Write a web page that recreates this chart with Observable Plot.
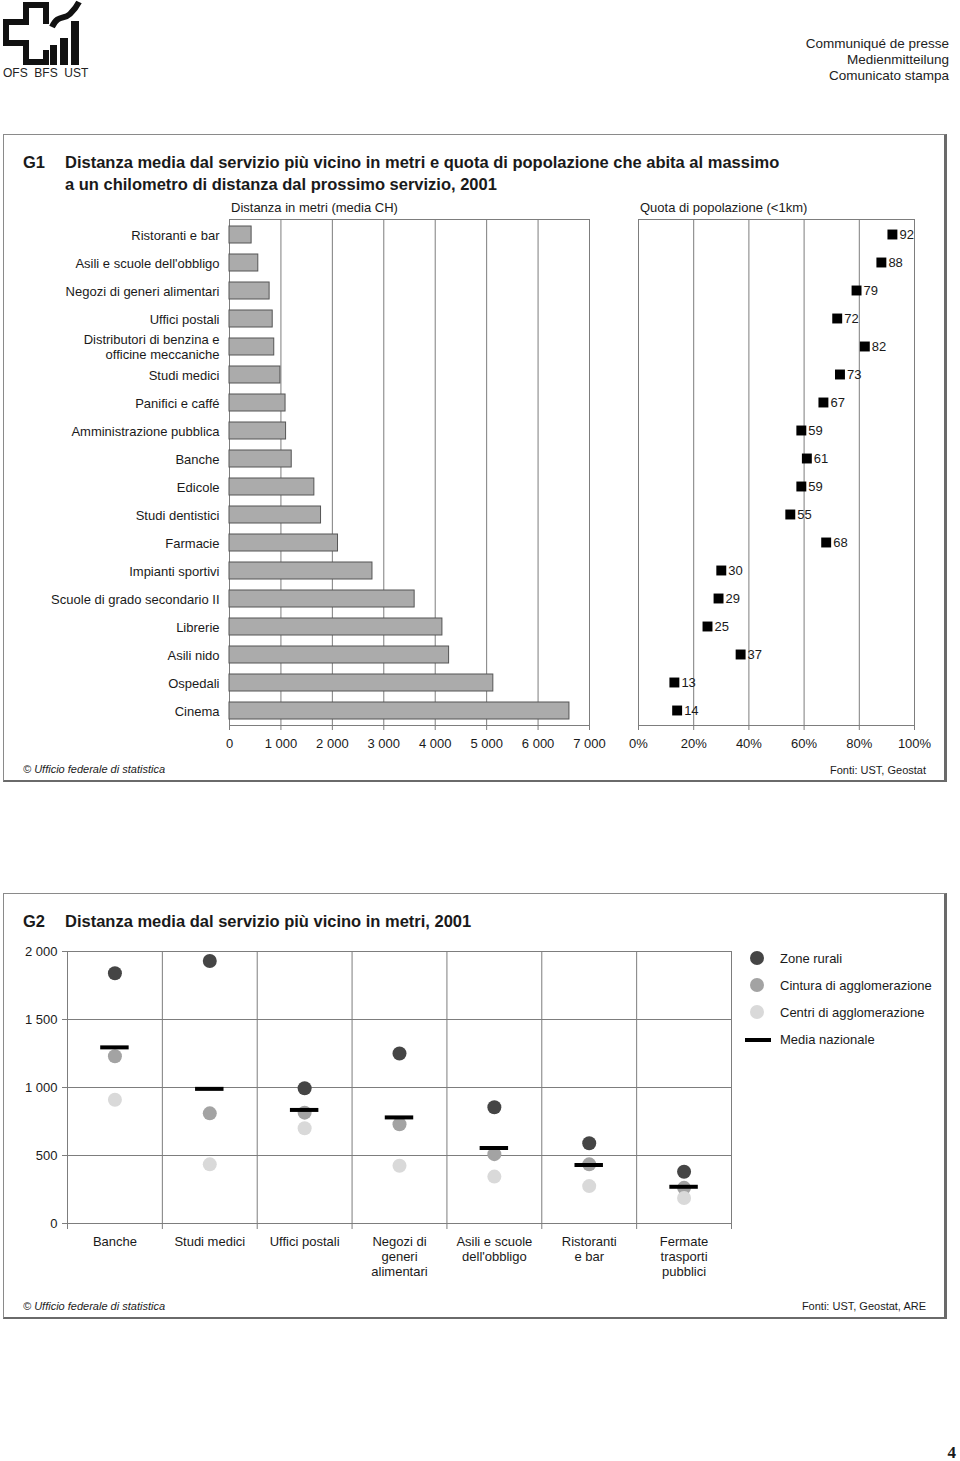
<!DOCTYPE html>
<html><head><meta charset="utf-8">
<script src="https://cdn.jsdelivr.net/npm/d3@7"></script>
<script src="https://cdn.jsdelivr.net/npm/@observablehq/plot@0.6"></script>
<style>
body{margin:0;background:#fff;font-family:"Liberation Sans",Arial,sans-serif;color:#1a1a1a;}
#page{position:relative;width:960px;height:1461px;overflow:hidden;background:#fff;}
.abs{position:absolute;white-space:nowrap;}
.box{position:absolute;border:1px solid #8a8a8a;border-right:3px solid #6a6a6a;border-bottom:2px solid #6a6a6a;box-sizing:border-box;}
.plotwrap{position:absolute;left:0;width:960px;}
.plotwrap svg{overflow:visible;max-width:none;}
.title{font-weight:bold;font-size:16.5px;line-height:22px;}
.sub{font-size:13px;line-height:16px;}
.foot{font-size:11px;line-height:14px;}
.leg{font-size:13px;line-height:16px;}
.dotleg{position:absolute;width:14px;height:14px;border-radius:50%;}
</style></head><body><div id="page"></div>
<script>
// ---------- G1 data ----------
const services = ["Ristoranti e bar","Asili e scuole dell'obbligo","Negozi di generi alimentari","Uffici postali","Distributori di benzina e\nofficine meccaniche","Studi medici","Panifici e caffé","Amministrazione pubblica","Banche","Edicole","Studi dentistici","Farmacie","Impianti sportivi","Scuole di grado secondario II","Librerie","Asili nido","Ospedali","Cinema"];
const distanceMeters = [430,560,780,840,870,990,1090,1100,1210,1650,1780,2110,2780,3600,4140,4270,5130,6610];
const shareWithin1km = [92,88,79,72,82,73,67,59,61,59,55,68,30,29,25,37,13,14];
const distanceTicks = [0,1000,2000,3000,4000,5000,6000,7000];
const shareTicks = [0,20,40,60,80,100];

// ---------- G2 data ----------
const services2 = ["Banche","Studi medici","Uffici postali","Negozi di\ngeneri\nalimentari","Asili e scuole\ndell'obbligo","Ristoranti\ne bar","Fermate\ntrasporti\npubblici"];
const zoneRurali = [1840,1930,995,1250,855,590,380];
const cinturaAgglo = [1230,810,815,730,510,435,262];
const centriAgglo = [910,435,700,425,345,275,188];
const mediaNazionale = [1295,990,835,780,555,430,270];
const distTicks2 = [0,500,1000,1500,2000];
const groups2 = ["Zone rurali","Cintura di agglomerazione","Centri di agglomerazione"];
const groupColors = ["#454545","#a3a3a3","#d9d9d9"];

const fmt = d3.formatLocale({decimal:".",thousands:" ",grouping:[3],currency:["",""]}).format(",");
const page = document.getElementById("page");
const FONT = "'Liberation Sans', Arial, sans-serif";
const baseStyle = {fontSize:"13px",fontFamily:FONT,color:"#1a1a1a",overflow:"visible",background:"transparent"};
const GRID = "#7d7d7d";

function addHTML(html){ page.insertAdjacentHTML("beforeend", html); }
function addPlot(svg, top){
  const w = document.createElement("div"); w.className = "plotwrap"; w.style.top = top + "px";
  w.appendChild(svg); page.appendChild(w);
}

// ---------- page header ----------
addHTML(`<svg class="abs" style="left:0;top:0" width="84" height="66" viewBox="0 0 84 66">
  <polyline points="46,24 46,5 26,5 26,22 6,22 6,43 26,43 26,62 46,62 46,50" fill="none" stroke="#111" stroke-width="6" stroke-linejoin="miter"/>
  <rect x="50" y="45" width="7" height="20" fill="#111"/>
  <rect x="60" y="38" width="8" height="27" fill="#111"/>
  <rect x="71" y="21" width="8" height="44" fill="#111"/>
  <path d="M52,27 C58,14 64,20 70,14 C74,10 77,6 79,2" fill="none" stroke="#111" stroke-width="6"/>
</svg>`);
addHTML(`<div class="abs" style="left:3px;top:66px;font-size:12px;line-height:14px;color:#222;">OFS&nbsp;&nbsp;BFS&nbsp;&nbsp;UST</div>`);
addHTML(`<div class="abs" style="right:11px;top:36px;font-size:13.5px;line-height:16px;text-align:right;color:#222;">Communiqué de presse<br>Medienmitteilung<br>Comunicato stampa</div>`);

// ---------- G1 box ----------
addHTML(`<div class="box" style="left:3px;top:134px;width:944px;height:648px;"></div>`);
addHTML(`<div class="abs title" style="left:23px;top:151px;">G1</div>`);
addHTML(`<div class="abs title" style="left:65px;top:151px;">Distanza media dal servizio più vicino in metri e quota di popolazione che abita al massimo<br>a un chilometro di distanza dal prossimo servizio, 2001</div>`);
addHTML(`<div class="abs sub" style="left:231px;top:200px;">Distanza in metri (media CH)</div>`);
addHTML(`<div class="abs sub" style="left:640px;top:200px;">Quota di popolazione (&lt;1km)</div>`);
addHTML(`<div class="abs foot" style="left:23px;top:762px;font-style:italic;">© Ufficio federale di statistica</div>`);
addHTML(`<div class="abs foot" style="right:34px;top:763px;">Fonti: UST, Geostat</div>`);

const rows1 = services.map((s,i)=>({s, d:distanceMeters[i], p:shareWithin1km[i]}));

const barsPlot = Plot.plot({
  width:960, height:554, marginLeft:229, marginRight:371, marginTop:18, marginBottom:30,
  style:baseStyle,
  x:{domain:[0,7000], label:null},
  y:{domain:services, paddingInner:0.4, paddingOuter:0.2, label:null},
  marks:[
    Plot.ruleX(distanceTicks, {stroke:GRID, strokeWidth:1}),
    Plot.frame({stroke:GRID}),
    Plot.barX(rows1, {x:"d", y:"s", fill:"#ababab", stroke:"#555", strokeWidth:1}),
    Plot.axisX({ticks:distanceTicks, tickSize:5, tickPadding:8, tickFormat:fmt, stroke:GRID, label:null}),
    Plot.axisY({tickSize:0, tickPadding:10, lineHeight:1.08, label:null})
  ]
});
addPlot(barsPlot, 201);

const sharePlot = Plot.plot({
  width:960, height:554, marginLeft:638, marginRight:46, marginTop:18, marginBottom:30,
  style:baseStyle,
  x:{domain:[0,100], label:null},
  y:{domain:services, paddingInner:0.4, paddingOuter:0.2, axis:null, label:null},
  marks:[
    Plot.ruleX(shareTicks, {stroke:GRID, strokeWidth:1}),
    Plot.frame({stroke:GRID}),
    Plot.axisX({ticks:shareTicks, tickSize:5, tickPadding:8, tickFormat:d=>d+"%", stroke:GRID, label:null}),
    Plot.dot(rows1, {x:"p", y:"s", symbol:"square", r:5.6, fill:"#000", stroke:"none"}),
    Plot.text(rows1, {x:"p", y:"s", text:d=>String(d.p), dx:7, textAnchor:"start", fontSize:13})
  ]
});
addPlot(sharePlot, 201);

// ---------- G2 box ----------
addHTML(`<div class="box" style="left:3px;top:893px;width:944px;height:426px;"></div>`);
addHTML(`<div class="abs title" style="left:23px;top:910px;">G2</div>`);
addHTML(`<div class="abs title" style="left:65px;top:910px;">Distanza media dal servizio più vicino in metri, 2001</div>`);
addHTML(`<div class="abs foot" style="left:23px;top:1299px;font-style:italic;">© Ufficio federale di statistica</div>`);
addHTML(`<div class="abs foot" style="right:34px;top:1299px;">Fonti: UST, Geostat, ARE</div>`);

// legend
groups2.forEach((g,i)=>{
  const cy = 958 + i*27;
  addHTML(`<div class="dotleg" style="left:750px;top:${cy-7}px;background:${groupColors[i]};"></div>`);
  addHTML(`<div class="abs leg" style="left:780px;top:${cy-7}px;">${g}</div>`);
});
addHTML(`<div class="abs" style="left:745px;top:1038px;width:26px;height:4px;background:#000;"></div>`);
addHTML(`<div class="abs leg" style="left:780px;top:1032px;">Media nazionale</div>`);

const dots2 = [];
services2.forEach((s,i)=>{
  [zoneRurali, cinturaAgglo, centriAgglo].forEach((arr,g)=>dots2.push({x:i+0.5, v:arr[i], g:groups2[g]}));
});
const media2 = services2.map((s,i)=>({x:i+0.5, v:mediaNazionale[i]}));
const bounds2 = services2.map((s,i)=>i+1);
const centers2 = services2.map((s,i)=>i+0.5);

const g2 = Plot.plot({
  width:960, height:349, marginLeft:67, marginRight:229, marginTop:17, marginBottom:60,
  style:baseStyle,
  x:{domain:[0,services2.length], label:null},
  y:{domain:[0,2000], label:null},
  color:{domain:groups2, range:groupColors},
  marks:[
    Plot.ruleY(distTicks2, {stroke:GRID}),
    Plot.ruleX(bounds2, {stroke:GRID}),
    Plot.frame({stroke:GRID}),
    Plot.axisY({ticks:distTicks2, tickSize:5, tickPadding:5, tickFormat:fmt, stroke:GRID, label:null}),
    Plot.axisX({ticks:[0, ...bounds2], tickSize:6, tickFormat:()=>"", stroke:GRID, label:null}),
    Plot.axisX({ticks:centers2, tickSize:0, tickPadding:12, tickFormat:d=>services2[Math.round(d-0.5)], lineHeight:1.15, label:null}),
    Plot.dot(dots2, {x:"x", y:"v", r:7, fill:"g", stroke:"none"}),
    Plot.ruleY(media2, {y:"v", x1:d=>d.x-0.15, x2:d=>d.x+0.15, stroke:"#000", strokeWidth:4})
  ]
});
addPlot(g2, 934);

// page number
addHTML(`<div class="abs" style="right:4px;top:1443px;font-family:'Liberation Serif',serif;font-weight:bold;font-size:17px;line-height:20px;">4</div>`);
</script>
</body></html>
